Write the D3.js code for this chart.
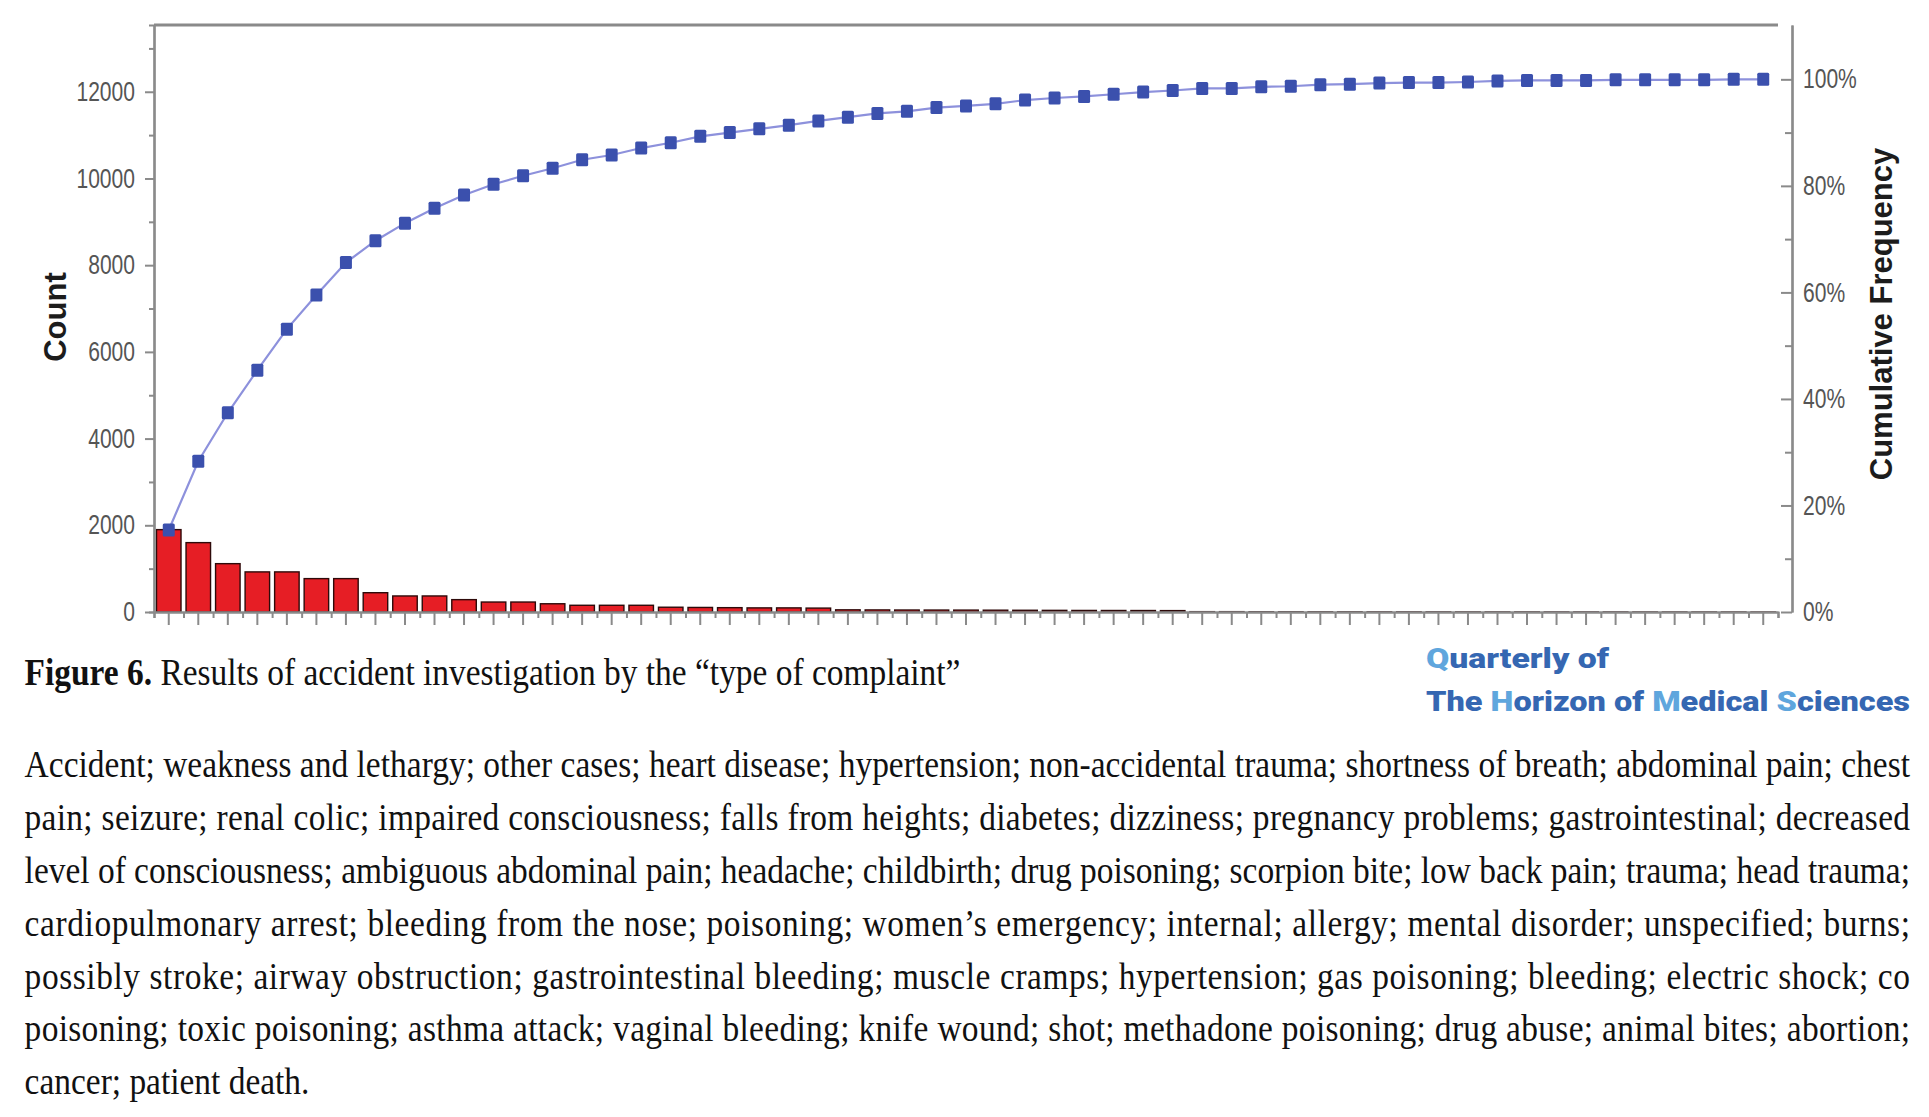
<!DOCTYPE html>
<html>
<head>
<meta charset="utf-8">
<script src="https://cdn.jsdelivr.net/npm/d3@7/dist/d3.min.js"></script>
<style>
body { margin: 0; background: #fff; }
svg { display: block; }
</style>
</head>
<body>
<div class="chart"></div>
<script>
const categories = [
    "Accident", "weakness and lethargy", "other cases", "heart disease", "hypertension",
    "non-accidental trauma", "shortness of breath", "abdominal pain", "chest pain", "seizure",
    "renal colic", "impaired consciousness", "falls from heights", "diabetes", "dizziness",
    "pregnancy problems", "gastrointestinal", "decreased level of consciousness", "ambiguous abdominal pain", "headache",
    "childbirth", "drug poisoning", "scorpion bite", "low back pain", "trauma",
    "head trauma", "cardiopulmonary arrest", "bleeding from the nose", "poisoning", "women’s emergency",
    "internal", "allergy", "mental disorder", "unspecified", "burns",
    "possibly stroke", "airway obstruction", "gastrointestinal bleeding", "muscle cramps", "hypertension (2)",
    "gas poisoning", "bleeding", "electric shock", "co poisoning", "toxic poisoning",
    "asthma attack", "vaginal bleeding", "knife wound", "shot", "methadone poisoning",
    "drug abuse", "animal bites", "abortion", "cancer", "patient death"
];

const counts = [
    1900, 1600, 1115, 925, 925, 770, 770, 445, 370, 370,
    285, 230, 230, 190, 155, 155, 155, 110, 105, 100,
    95, 95, 90, 50, 48, 46, 45, 44, 42, 40,
    38, 36, 35, 34, 32, 8, 8, 7, 7, 6,
    6, 5, 5, 5, 4, 4, 4, 3, 3, 3,
    2, 2, 2, 2, 1
];

const cumulativePct = [
    15.4, 28.3, 37.4, 45.4, 53.1, 59.5, 65.6, 69.7, 73.0, 75.8,
    78.3, 80.3, 81.9, 83.3, 84.9, 85.8, 87.1, 88.1, 89.3, 90.0,
    90.7, 91.4, 92.2, 92.9, 93.6, 94.0, 94.7, 95.0, 95.4, 96.1,
    96.5, 96.8, 97.2, 97.6, 97.9, 98.3, 98.3, 98.6, 98.7, 99.0,
    99.1, 99.3, 99.4, 99.4, 99.5, 99.7, 99.8, 99.8, 99.8, 99.9,
    99.9, 99.9, 99.9, 100, 100
];

const countTicks = [0, 2000, 4000, 6000, 8000, 10000, 12000];
const countMinorTicks = [1000, 3000, 5000, 7000, 9000, 11000, 13000];
const pctTicks = [0, 20, 40, 60, 80, 100];
const pctMinorTicks = [10, 30, 50, 70, 90];

const captionBold = "Figure 6.";
const captionRest = " Results of accident investigation by the “type of complaint”";
const journalLines = ["Quarterly of", "The Horizon of Medical Sciences"];
const noteLines = [
    "Accident; weakness and lethargy; other cases; heart disease; hypertension; non-accidental trauma; shortness of breath; abdominal pain; chest",
    "pain; seizure; renal colic; impaired consciousness; falls from heights; diabetes; dizziness; pregnancy problems; gastrointestinal; decreased",
    "level of consciousness; ambiguous abdominal pain; headache; childbirth; drug poisoning; scorpion bite; low back pain; trauma; head trauma;",
    "cardiopulmonary arrest; bleeding from the nose; poisoning; women’s emergency; internal; allergy; mental disorder; unspecified; burns;",
    "possibly stroke; airway obstruction; gastrointestinal bleeding; muscle cramps; hypertension; gas poisoning; bleeding; electric shock; co",
    "poisoning; toxic poisoning; asthma attack; vaginal bleeding; knife wound; shot; methadone poisoning; drug abuse; animal bites; abortion;",
    "cancer; patient death."
];

const W = 1929, H = 1117;
const plot = {left: 154, right: 1778, top: 25, bottom: 612, rightAxis: 1792};
const tickFont = "'Liberation Sans', Arial, sans-serif";
const tickSquash = 0.78;
const axisGray = "#8a8a8a";

const svg = d3.select(".chart").append("svg")
    .attr("width", W)
    .attr("height", H)
    .style("background", "#fff");

const x = d3.scaleBand()
    .domain(categories)
    .range([plot.left, plot.right])
    .paddingInner(0.17)
    .paddingOuter(0.085);

const xEdges = d3.scaleLinear()
    .domain([0, categories.length])
    .range([plot.left, plot.right]);

const yCount = d3.scaleLinear()
    .domain([0, 13540])
    .range([plot.bottom, plot.top]);

const yPct = d3.scaleLinear()
    .domain([0, 110.2])
    .range([plot.bottom, plot.top]);

// bars first, so the x axis line covers the tiny ones
svg.append("g")
    .selectAll("rect")
    .data(counts)
    .enter()
    .append("rect")
    .attr("x", (d, i) => x(categories[i]))
    .attr("width", x.bandwidth())
    .attr("y", d => yCount(d))
    .attr("height", d => plot.bottom - yCount(d))
    .attr("fill", "#e61e25")
    .attr("stroke", "#2e0a0a")
    .attr("stroke-width", 1.4);

// top frame
svg.append("line")
    .attr("x1", plot.left).attr("x2", plot.right)
    .attr("y1", plot.top).attr("y2", plot.top)
    .attr("stroke", axisGray)
    .attr("stroke-width", 3);

function styleAxis(g) {
    g.select(".domain").attr("stroke", axisGray).attr("stroke-width", 2.2);
    g.selectAll(".tick line").attr("stroke", axisGray).attr("stroke-width", 2);
    g.selectAll(".tick text")
        .attr("fill", "#555")
        .style("font-family", tickFont)
        .style("font-size", "27px")
        .each(function() {
            // condensed look of the original labels
            const t = d3.select(this);
            const tx = +t.attr("x") || 0;
            t.attr("x", tx / tickSquash).attr("transform", `scale(${tickSquash},1)`);
        });
}

// x axis: long ticks at centres, short ticks at band edges
svg.append("g")
    .attr("transform", `translate(0,${plot.bottom})`)
    .call(d3.axisBottom(xEdges).tickValues(d3.range(0, categories.length + 1)).tickSize(6).tickFormat(""))
    .call(styleAxis);

svg.append("g")
    .attr("transform", `translate(0,${plot.bottom})`)
    .call(d3.axisBottom(x).tickSize(13).tickSizeOuter(0).tickFormat(""))
    .call(styleAxis);

// left axis
svg.append("g")
    .attr("transform", `translate(${plot.left},0)`)
    .call(d3.axisLeft(yCount).tickValues(countMinorTicks).tickSize(5).tickFormat(""))
    .call(styleAxis);

svg.append("g")
    .attr("transform", `translate(${plot.left},0)`)
    .call(d3.axisLeft(yCount).tickValues(countTicks).tickSize(9).tickSizeOuter(0).tickPadding(10).tickFormat(d3.format("d")))
    .call(styleAxis);

// right axis, ticks pointing into the plot
svg.append("g")
    .attr("transform", `translate(${plot.rightAxis},0)`)
    .call(d3.axisRight(yPct).tickValues(pctMinorTicks).tickSizeInner(-7).tickSizeOuter(0).tickFormat(""))
    .call(styleAxis);

svg.append("g")
    .attr("transform", `translate(${plot.rightAxis},0)`)
    .call(d3.axisRight(yPct).tickValues(pctTicks).tickSizeInner(-11).tickSizeOuter(0).tickPadding(11).tickFormat(d => d + "%"))
    .call(styleAxis);

// cumulative line + markers
const cx = (i) => x(categories[i]) + x.bandwidth() / 2;

svg.append("path")
    .datum(cumulativePct)
    .attr("fill", "none")
    .attr("stroke", "#8d91dc")
    .attr("stroke-width", 2.2)
    .attr("d", d3.line().x((d, i) => cx(i)).y(d => yPct(d)));

svg.append("g")
    .selectAll("rect")
    .data(cumulativePct)
    .enter()
    .append("rect")
    .attr("x", (d, i) => cx(i) - 6)
    .attr("y", d => yPct(d) - 6.5)
    .attr("width", 12)
    .attr("height", 13)
    .attr("rx", 1.5)
    .attr("fill", "#3b50ad");

// axis titles
svg.append("text")
    .attr("transform", "translate(55,317) rotate(-90)")
    .attr("text-anchor", "middle")
    .attr("dominant-baseline", "central")
    .style("font-family", "'Liberation Sans', Arial, sans-serif")
    .style("font-weight", "bold")
    .style("font-size", "31px")
    .attr("fill", "#1c1c1c")
    .text("Count");

svg.append("text")
    .attr("transform", "translate(1881,314) rotate(-90)")
    .attr("text-anchor", "middle")
    .attr("dominant-baseline", "central")
    .style("font-family", "'Liberation Sans', Arial, sans-serif")
    .style("font-weight", "bold")
    .style("font-size", "31px")
    .attr("fill", "#1c1c1c")
    .text("Cumulative Frequency");

// caption and note, set in a condensed serif
const serif = "'Liberation Serif', 'Times New Roman', serif";
const noteX = 24.6, noteRight = 1910, noteTop = 777, noteStep = 52.9;

const noteTexts = noteLines.map((line, i) => {
    return svg.append("text")
        .attr("y", noteTop + i * noteStep)
        .style("font-family", serif)
        .style("font-size", "37px")
        .attr("fill", "#111")
        .text(line);
});

const widest = d3.max(noteTexts.slice(0, 6), t => t.node().getComputedTextLength());
const sx = (noteRight - noteX) / widest;

noteTexts.forEach((t, i) => {
    t.attr("transform", `scale(${sx},1)`)
        .attr("x", noteX / sx);
    if (i < noteLines.length - 1) {
        t.attr("textLength", (noteRight - noteX) / sx)
            .attr("lengthAdjust", "spacing");
    }
});

const caption = svg.append("text")
    .attr("transform", `scale(${sx},1)`)
    .attr("x", noteX / sx)
    .attr("y", 685)
    .style("font-family", serif)
    .style("font-size", "37px")
    .attr("fill", "#111");
caption.append("tspan").style("font-weight", "bold").text(captionBold);
caption.append("tspan").text(captionRest);

// journal mark
const journalWidths = [183, 484];
journalLines.forEach((line, i) => {
    const t = svg.append("text")
        .attr("x", 1426)
        .attr("y", 668 + i * 42.5)
        .attr("textLength", journalWidths[i])
        .attr("lengthAdjust", "spacingAndGlyphs")
        .style("font-family", "Roboto, 'Noto Sans', sans-serif")
        .style("font-weight", 900)
        .style("font-size", "27px");
    line.split(" ").forEach((word, k, arr) => {
        const lead = /[A-Z]/.test(word[0]) && word !== "The";
        const rest = word.slice(1) + (k < arr.length - 1 ? " " : "");
        t.append("tspan").attr("fill", lead ? "#5fa6dd" : "#3567b2").text(word[0]);
        t.append("tspan").attr("fill", "#3567b2").text(rest);
    });
});
</script>
</body>
</html>
